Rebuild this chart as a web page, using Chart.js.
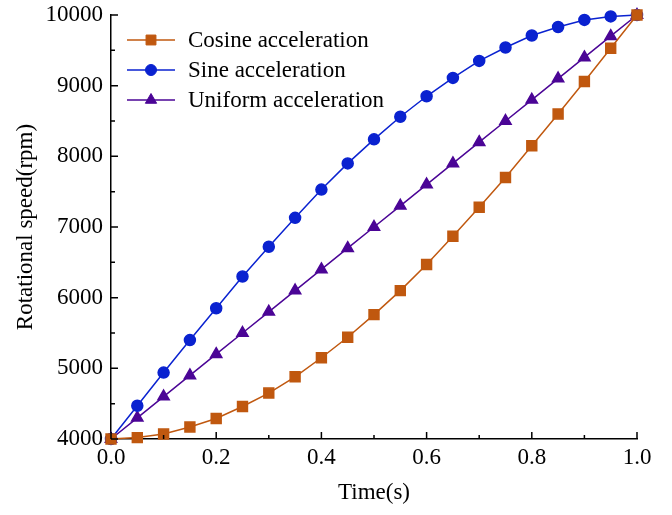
<!DOCTYPE html>
<html>
<head>
<meta charset="utf-8">
<script src="https://cdn.jsdelivr.net/npm/chart.js@4"></script>
<style>
  html, body { margin: 0; padding: 0; background: #fff; }
  #wrap { width: 672px; height: 515px; }
</style>
</head>
<body>
<div id="wrap"><canvas id="speedChart" width="672" height="515"></canvas></div>
<script>
const times = [0, 0.05, 0.1, 0.15, 0.2, 0.25, 0.3, 0.35, 0.4, 0.45, 0.5,
               0.55, 0.6, 0.65, 0.7, 0.75, 0.8, 0.85, 0.9, 0.95, 1.0];
const cosineSpeed = [4000, 4020, 4070, 4170, 4290, 4460, 4650, 4880, 5150, 5440, 5760,
                     6100, 6470, 6870, 7280, 7700, 8150, 8600, 9060, 9530, 10000];
const sineSpeed = [4000, 4470, 4940, 5400, 5850, 6300, 6720, 7130, 7530, 7900, 8240,
                   8560, 8850, 9110, 9350, 9540, 9710, 9830, 9930, 9980, 10000];
const uniformSpeed = [4000, 4300, 4600, 4900, 5200, 5500, 5800, 6100, 6400, 6700, 7000,
                      7300, 7600, 7900, 8200, 8500, 8800, 9100, 9400, 9700, 10000];
const xMajorTicks = [0, 0.2, 0.4, 0.6, 0.8, 1.0];
const xMinorTicks = [0.1, 0.3, 0.5, 0.7, 0.9];
const yMajorTicks = [4000, 5000, 6000, 7000, 8000, 9000, 10000];
const yMinorTicks = [4500, 5500, 6500, 7500, 8500, 9500];

const FONT = "'Liberation Serif', 'Times New Roman', serif";

function toPoints(ys) {
  return times.map((t, i) => ({ x: t, y: ys[i] }));
}

// inward tick marks, like the origin-style plot
const innerTicks = {
  id: "innerTicks",
  afterDraw(chart) {
    const ctx = chart.ctx;
    const xs = chart.scales.x;
    const ys = chart.scales.y;
    const area = chart.chartArea;
    ctx.save();
    ctx.strokeStyle = "#000";
    ctx.lineWidth = 1.5;
    ctx.beginPath();
    const xt = (vals, len) => vals.forEach(v => {
      const px = xs.getPixelForValue(v);
      ctx.moveTo(px, area.bottom);
      ctx.lineTo(px, area.bottom - len);
    });
    const yt = (vals, len) => vals.forEach(v => {
      const py = ys.getPixelForValue(v);
      ctx.moveTo(area.left, py);
      ctx.lineTo(area.left + len, py);
    });
    xt(xMajorTicks, 7); xt(xMinorTicks, 4);
    yt(yMajorTicks, 7); yt(yMinorTicks, 4);
    ctx.stroke();
    ctx.restore();
  }
};

// legend: line sample + marker + label
const lineLegend = {
  id: "lineLegend",
  afterDraw(chart) {
    const ctx = chart.ctx;
    const left = 127, lineW = 48, textX = 188;
    let y = 40;
    ctx.save();
    ctx.font = "23px " + FONT;
    ctx.textBaseline = "middle";
    chart.data.datasets.forEach(ds => {
      ctx.strokeStyle = ds.borderColor;
      ctx.lineWidth = 1.5;
      ctx.beginPath();
      ctx.moveTo(left, y);
      ctx.lineTo(left + lineW, y);
      ctx.stroke();
      ctx.fillStyle = ds.pointBackgroundColor;
      ctx.strokeStyle = ds.pointBackgroundColor;
      ctx.lineWidth = 1;
      Chart.helpers.drawPoint(ctx, {
        pointStyle: ds.pointStyle,
        radius: ds.pointRadius,
        borderWidth: 1
      }, left + lineW / 2, y);
      ctx.fillStyle = "#000";
      ctx.fillText(ds.label, textX, y + 1);
      y += 30;
    });
    ctx.restore();
  }
};

new Chart(document.getElementById("speedChart").getContext("2d"), {
  type: "line",
  data: {
    datasets: [
      {
        label: "Cosine acceleration",
        data: toPoints(cosineSpeed),
        borderColor: "#C0580F",
        backgroundColor: "#C0580F",
        pointBackgroundColor: "#C0580F",
        pointBorderColor: "#C0580F",
        pointStyle: "rect",
        pointRadius: 7,
        borderWidth: 1.5
      },
      {
        label: "Sine acceleration",
        data: toPoints(sineSpeed),
        borderColor: "#0A22D0",
        backgroundColor: "#0A22D0",
        pointBackgroundColor: "#0A22D0",
        pointBorderColor: "#0A22D0",
        pointStyle: "circle",
        pointRadius: 5.5,
        borderWidth: 1.5
      },
      {
        label: "Uniform acceleration",
        data: toPoints(uniformSpeed),
        borderColor: "#4B0596",
        backgroundColor: "#4B0596",
        pointBackgroundColor: "#4B0596",
        pointBorderColor: "#4B0596",
        pointStyle: "triangle",
        pointRadius: 6.5,
        borderWidth: 1.5
      }
    ]
  },
  options: {
    responsive: false,
    animation: false,
    clip: false,
    layout: { padding: { left: 0, right: 35, top: 15, bottom: 0 } },
    plugins: {
      legend: { display: false },
      tooltip: { enabled: false }
    },
    elements: { line: { tension: 0 } },
    scales: {
      x: {
        type: "linear",
        min: 0,
        max: 1,
        afterFit(scale) { scale.height = 76; },
        afterBuildTicks(scale) { scale.ticks = xMajorTicks.map(v => ({ value: v })); },
        ticks: {
          color: "#000",
          padding: 5,
          maxRotation: 0,
          font: { family: FONT, size: 23 },
          callback: v => v.toFixed(1)
        },
        grid: { drawOnChartArea: false, drawTicks: false },
        border: { display: true, color: "#000", width: 1.5 },
        title: {
          display: true,
          text: "Time(s)",
          color: "#000",
          font: { family: FONT, size: 23 },
          padding: { top: 4, bottom: 8 }
        }
      },
      y: {
        min: 4000,
        max: 10000,
        afterFit(scale) {
          scale.width = 111;
          scale.paddingTop = 0;
          scale.paddingBottom = 0;
        },
        afterBuildTicks(scale) { scale.ticks = yMajorTicks.map(v => ({ value: v })); },
        ticks: {
          color: "#000",
          padding: 8,
          font: { family: FONT, size: 23 },
          callback: v => String(v)
        },
        grid: { drawOnChartArea: false, drawTicks: false },
        border: { display: true, color: "#000", width: 1.5 },
        title: {
          display: true,
          text: "Rotational speed(rpm)",
          color: "#000",
          font: { family: FONT, size: 23 },
          padding: { top: 12, bottom: 0 }
        }
      }
    }
  },
  plugins: [innerTicks, lineLegend]
});
</script>
</body>
</html>
